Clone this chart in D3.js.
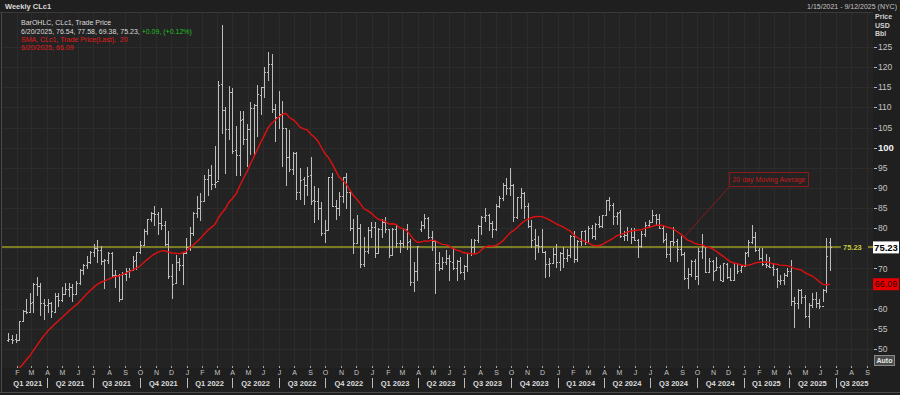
<!DOCTYPE html>
<html>
<head>
<meta charset="utf-8">
<script src="https://cdn.jsdelivr.net/npm/d3@7"></script>
<style>
  html, body { margin: 0; padding: 0; background: #1f1f1f; }
  svg { display: block; font-family: "Liberation Sans", Arial, sans-serif; }
</style>
</head>
<body>
<svg id="chart" width="900" height="395"></svg>
<script>
// Weekly bars, first bar on Friday 2021-01-15, one every 7 days
const firstWeek = "2021-01-15";

// [open, high, low, close] per week
const ohlc2021 = [
  [52.2,53.9,51.8,52.36],[52.4,53.6,51.3,52.27],[52.4,53.7,51.6,52.20],[52.3,57.0,51.9,56.85],
  [56.9,59.6,56.6,59.47],[59.5,62.3,58.6,59.24],[59.3,63.8,59.0,61.50],[61.6,66.4,58.9,66.09],
  [66.1,68.0,63.1,65.61],[65.6,66.4,58.3,61.42],[61.4,62.3,57.3,60.97],[61.0,62.3,58.9,61.45],
  [61.4,61.6,57.6,59.32],[59.3,64.0,59.0,63.13],[63.1,64.0,60.5,62.14],[62.1,65.5,61.6,63.58],
  [63.6,66.5,63.6,64.90],[64.9,66.4,62.8,65.37],[65.4,66.1,61.6,63.58],[63.6,67.0,63.3,66.32],
  [66.3,69.8,66.0,69.62],[69.6,71.0,68.5,70.91],[70.9,73.0,69.8,71.64],[71.6,74.3,71.2,74.05],
  [74.0,76.0,72.9,75.16],[75.2,77.0,71.3,74.56],[74.6,75.5,70.8,71.81],[71.8,72.3,65.0,72.07],
  [72.1,74.0,71.1,73.95],[73.9,74.0,67.7,68.28],[68.3,69.6,65.2,68.44],[68.4,68.6,61.7,62.32],
  [62.3,69.0,62.2,68.74],[68.7,70.0,67.0,69.29],[69.3,70.0,67.6,69.72],[69.7,73.0,69.5,71.97],
  [72.0,74.0,69.7,73.98],[74.0,76.7,73.6,75.88],[75.9,79.8,75.5,79.35],[79.4,82.4,78.3,82.28],
  [82.3,84.0,81.5,83.76],[83.8,85.4,80.6,83.57],[83.6,84.0,78.3,81.27],[81.3,85.0,79.5,80.79],
  [80.8,81.7,75.6,76.10],[76.1,79.3,67.4,68.15],[68.2,71.0,62.4,66.26],[66.3,73.3,66.1,71.67],
  [71.7,72.6,69.3,70.86],[70.9,73.9,66.0,73.79],[73.8,77.5,73.6,75.21]
];
const ohlc2022 = [
  [75.2,80.2,74.3,78.90],[78.9,84.0,78.0,83.82],[83.8,87.9,82.5,85.14],[85.1,88.8,81.8,86.82],
  [86.8,93.2,86.6,92.31],[92.3,94.7,88.0,93.10],[93.1,95.8,89.6,91.07],[91.1,100.5,90.1,91.59],
  [91.6,116.6,91.9,115.68],[115.7,130.5,103.4,109.33],[109.3,110.0,93.5,104.70],[104.7,115.4,101.9,113.90],
  [113.9,114.8,98.4,99.27],[99.3,105.3,93.0,98.26],[98.3,109.2,93.0,106.95],[107.0,109.2,100.6,102.07],
  [102.1,106.0,95.3,104.69],[104.7,111.4,98.2,109.77],[109.8,110.9,98.2,110.49],[110.5,115.5,102.6,113.23],
  [113.2,115.1,108.0,115.07],[115.1,120.0,112.3,118.87],[118.9,123.7,116.6,120.67],[120.7,123.2,108.6,109.56],
  [109.6,110.8,101.5,107.62],[107.6,114.1,104.6,108.43],[108.4,111.5,95.1,104.79],[104.8,105.0,90.6,97.59],
  [97.6,104.4,94.0,94.70],[94.7,99.0,93.2,98.62],[98.6,99.0,87.0,89.01],[89.0,94.9,87.0,92.09],
  [92.1,92.7,85.7,90.77],[90.8,95.1,88.0,93.06],[93.1,97.7,85.7,86.87],[86.9,90.4,81.2,86.79],
  [86.8,90.0,82.1,85.11],[85.1,86.4,78.0,78.74],[78.7,82.0,76.3,79.49],[79.5,92.8,79.3,92.64],
  [92.6,93.6,85.3,85.61],[85.6,86.9,82.1,85.05],[85.1,89.1,83.0,87.90],[87.9,92.8,86.3,92.61],
  [92.6,93.7,84.7,88.96],[89.0,89.2,79.4,80.08],[80.1,82.4,73.6,76.28],[76.3,83.3,76.2,79.98],
  [80.0,81.0,70.1,71.02],[71.0,77.8,70.3,74.29],[74.3,80.3,73.6,79.56],[79.6,81.5,77.5,80.26]
];
const ohlc2023 = [
  [80.3,81.5,72.5,73.77],[73.8,80.1,73.5,79.86],[79.9,82.4,77.6,81.64],[81.6,82.7,78.9,79.68],
  [79.7,79.8,72.6,73.39],[73.4,80.0,73.3,79.72],[79.7,80.7,75.1,76.34],[76.3,77.0,73.8,76.32],
  [76.3,80.1,75.1,79.68],[79.7,81.0,74.7,76.68],[76.7,77.4,65.6,66.74],[66.7,71.7,64.1,69.26],
  [69.3,75.7,66.8,75.67],[79.8,81.8,79.0,80.70],[80.7,83.5,79.8,82.52],[82.5,82.7,77.4,77.87],
  [77.9,79.2,74.3,76.78],[76.8,76.9,63.6,71.34],[71.3,74.0,69.4,70.04],[70.0,72.9,69.6,71.69],
  [71.7,74.7,70.8,72.67],[72.7,73.3,67.0,71.74],[71.7,75.1,69.7,70.17],[70.2,72.2,66.8,71.78],
  [71.8,72.8,68.6,69.16],[69.2,70.9,67.1,70.64],[70.6,73.9,69.0,73.86],[73.9,77.3,73.1,75.42],
  [75.4,77.2,73.9,77.07],[77.1,80.7,76.4,80.58],[80.6,83.0,78.3,82.82],[82.8,84.9,81.5,83.19],
  [83.2,83.5,79.4,81.25],[81.3,81.8,77.6,79.83],[79.8,86.0,79.4,85.55],[85.6,88.1,84.9,87.51],
  [87.5,91.2,86.7,90.77],[90.8,92.4,88.3,90.03],[90.0,95.0,88.0,90.79],[90.8,91.0,81.5,82.79],
  [82.8,87.8,82.3,87.69],[87.7,90.0,84.7,88.75],[88.8,89.1,82.3,85.54],[85.5,86.2,80.1,80.51],
  [80.5,82.1,75.0,77.17],[77.2,79.7,72.2,75.89],[75.9,78.0,73.8,75.54],[75.5,79.7,73.8,74.07],
  [74.1,74.4,67.7,71.23],[71.2,72.7,68.0,71.43],[71.4,75.1,71.3,73.56],[73.6,76.2,70.1,71.65]
];
const ohlc2024 = [
  [71.7,74.2,69.3,73.81],[73.8,75.3,70.1,72.68],[72.7,74.9,71.7,73.41],[73.4,78.2,72.5,78.01],
  [78.0,79.3,71.4,72.28],[72.3,77.0,71.7,76.84],[76.8,79.3,75.7,79.19],[79.2,79.6,75.9,76.49],
  [76.5,80.6,76.4,79.97],[80.0,80.9,77.4,78.01],[78.0,81.3,77.0,81.04],[81.0,83.1,80.0,80.63],
  [80.6,83.2,80.1,83.17],[83.2,87.0,83.0,86.91],[86.9,87.7,84.3,85.66],[85.7,86.2,80.7,83.14],
  [83.1,84.0,80.7,83.85],[83.9,84.4,77.6,78.11],[78.1,79.4,76.8,78.26],[78.3,80.4,76.8,79.23],
  [79.2,80.1,76.0,77.72],[77.7,80.0,76.8,76.99],[77.0,77.4,72.5,75.53],[75.5,79.4,75.1,78.45],
  [78.5,81.6,77.8,80.73],[80.7,82.1,80.0,81.54],[81.5,84.5,81.5,83.16],[83.2,83.6,80.9,82.21],
  [82.2,83.6,79.9,80.13],[80.1,80.6,76.3,77.16],[77.2,78.8,72.6,73.52],[73.5,76.9,71.7,76.84],
  [76.8,80.2,75.7,76.65],[76.7,77.2,71.5,74.83],[74.8,78.0,73.2,73.55],[73.6,74.0,67.1,67.67],
  [67.7,70.0,64.8,68.65],[68.7,72.0,67.8,71.92],[71.9,72.4,67.2,68.18],[68.2,75.0,66.0,74.38],
  [74.4,78.5,72.3,75.56],[75.6,75.6,68.9,69.22],[69.2,72.6,69.0,71.78],[71.8,72.0,66.8,69.49],
  [69.5,72.9,69.3,70.38],[70.4,70.9,66.9,67.02],[67.0,71.4,66.7,71.24],[71.2,71.4,67.3,68.00],
  [68.0,70.0,66.9,67.20],[67.2,71.3,67.1,71.29],[71.3,71.3,68.6,69.46],[69.5,70.8,68.9,70.60]
];
const ohlc2025 = [
  [70.6,74.1,70.9,73.96],[74.0,77.0,72.8,76.57],[76.6,80.8,76.2,77.88],[77.9,79.0,74.2,74.66],
  [74.7,75.2,72.0,72.53],[72.5,75.2,70.7,71.00],[71.0,73.7,70.0,70.74],[70.7,72.9,70.0,70.40],
  [70.4,71.3,68.1,69.76],[69.8,70.0,65.2,67.04],[67.0,68.5,65.8,67.18],[67.2,68.8,66.0,68.28],
  [68.3,70.2,68.0,69.36],[69.4,72.0,60.8,61.99],[62.0,62.9,55.1,61.50],[61.5,64.9,60.0,64.68],
  [64.7,64.9,61.2,63.02],[63.0,63.4,57.6,58.29],[58.3,61.4,55.3,61.02],[61.0,63.9,60.2,62.49],
  [62.5,64.2,60.3,61.53],[61.5,62.4,59.9,60.79],[60.8,64.9,61.7,64.58],[64.6,77.6,64.0,72.98],
  [76.54,77.58,69.38,75.23]
];

// 19 weekly closes before the first bar (Sep 2020 - Jan 2021), needed for the 20 week SMA
const closesBefore = [39.77,37.33,41.11,40.25,37.05,40.60,40.88,39.85,35.79,37.14,
  40.13,42.15,45.53,46.26,46.57,49.10,48.23,48.52,52.24];

const smaPeriod = 20;
const lastPrice = 75.23;
const lastSma = 66.09;
const priceTicks = d3.range(50, 126, 5);
const monthLetters = ["J","F","M","A","M","J","J","A","S","O","N","D"];
const legendLines = [
  "BarOHLC, CLc1, Trade Price",
  "6/20/2025, 76.54, 77.58, 69.38, 75.23, ",
  "SMA, CLc1, Trade Price(Last),  20",
  "6/20/2025, 66.09"
];
const changeText = "+0.09, (+0.12%)";
const noteText = "20 day Moving Average";
const noteWeek = "2024-09-06";

// ---- layout ----
const W = 900, H = 395;
const plot = { left: 2, right: 873, top: 13, bottom: 368 };
const svg = d3.select("#chart");

const parse = d3.timeParse("%Y-%m-%d");
const fmt = d3.timeFormat("%Y-%m-%d");
const start = parse(firstWeek);
const rows = [].concat(ohlc2021, ohlc2022, ohlc2023, ohlc2024, ohlc2025);
const bars = rows.map((r, i) => ({
  date: d3.timeDay.offset(start, 7 * i),
  open: r[0], high: r[1], low: r[2], close: r[3]
}));

// SMA(20) of the weekly closes, as in the legend
const allCloses = closesBefore.concat(bars.map(d => d.close));
const sma = bars.map((d, i) => ({
  date: d.date,
  value: d3.mean(allCloses.slice(i, i + smaPeriod))
}));

const x = d3.scaleTime()
  .domain([parse("2021-01-15"), parse("2025-09-12")])
  .range([8.4, 872.6]);
const y = d3.scaleLinear().domain([50, 125]).range([349, 47]);

// background
svg.append("rect").attr("width", W).attr("height", H).attr("fill", "#1f1f1f");
svg.append("rect")
  .attr("x", plot.left).attr("y", plot.top)
  .attr("width", plot.right - plot.left).attr("height", plot.bottom - plot.top)
  .attr("fill", "#232323");

svg.append("defs").append("clipPath").attr("id", "clip")
  .append("rect")
  .attr("x", plot.left).attr("y", plot.top)
  .attr("width", plot.right - plot.left).attr("height", plot.bottom - plot.top);

// grid
const grid = svg.append("g").attr("stroke", "#2c2c2c").attr("stroke-width", 1);
grid.selectAll("line.h").data(priceTicks).join("line")
  .attr("x1", plot.left).attr("x2", plot.right)
  .attr("y1", d => Math.round(y(d)) + 0.5).attr("y2", d => Math.round(y(d)) + 0.5);
const months = d3.timeMonth.range(d3.timeMonth.ceil(x.domain()[0]), x.domain()[1]);
grid.selectAll("line.v").data(months).join("line")
  .attr("y1", plot.top).attr("y2", plot.bottom)
  .attr("x1", d => Math.round(x(d)) + 0.5).attr("x2", d => Math.round(x(d)) + 0.5);

// frame lines
svg.append("line").attr("x1", 0).attr("x2", plot.right).attr("y1", 12.5).attr("y2", 12.5)
  .attr("stroke", "#3a3a3a");
svg.append("line").attr("x1", 1.5).attr("x2", 1.5).attr("y1", 12).attr("y2", 393)
  .attr("stroke", "#4a4a4a");
svg.append("line").attr("x1", 0).attr("x2", W).attr("y1", 392.5).attr("y2", 392.5)
  .attr("stroke", "#4a4a4a");

const chart = svg.append("g").attr("clip-path", "url(#clip)");

// last price line
const ly = Math.round(y(lastPrice));
const priceLine = chart.append("g").attr("stroke", "#9a9a26").attr("stroke-width", 1.6);
priceLine.append("line").attr("x1", plot.left).attr("x2", 841).attr("y1", ly).attr("y2", ly);
priceLine.append("line").attr("x1", 868).attr("x2", plot.right).attr("y1", ly).attr("y2", ly);
svg.append("text").attr("x", 843).attr("y", ly).attr("dy", "0.35em")
  .attr("fill", "#c8c83a").attr("font-size", 7.5).attr("font-weight", "bold")
  .text(lastPrice.toFixed(2));

// OHLC bars
const barG = chart.append("g").attr("stroke", "#bdbdbd").attr("stroke-width", 1)
  .attr("shape-rendering", "crispEdges");
bars.forEach(d => {
  const cx = Math.round(x(d.date)) + 0.5;
  barG.append("line").attr("x1", cx).attr("x2", cx)
    .attr("y1", y(d.high)).attr("y2", y(d.low));
  barG.append("line").attr("x1", cx - 1.5).attr("x2", cx)
    .attr("y1", Math.round(y(d.open)) + 0.5).attr("y2", Math.round(y(d.open)) + 0.5);
  barG.append("line").attr("x1", cx).attr("x2", cx + 1.5)
    .attr("y1", Math.round(y(d.close)) + 0.5).attr("y2", Math.round(y(d.close)) + 0.5);
});

// SMA line
const line = d3.line().x(d => x(d.date)).y(d => y(d.value));
chart.append("path").datum(sma)
  .attr("d", line)
  .attr("fill", "none")
  .attr("stroke", "#e01010")
  .attr("stroke-width", 1.4);

// annotation
const note = sma.find(d => fmt(d.date) === noteWeek);
svg.append("line")
  .attr("x1", x(note.date)).attr("y1", y(note.value))
  .attr("x2", 729.5).attr("y2", 186.5)
  .attr("stroke", "#8a1a1a").attr("stroke-width", 1);
svg.append("rect").attr("x", 729.5).attr("y", 172.5).attr("width", 79).attr("height", 14)
  .attr("fill", "#232323").attr("stroke", "#8a1a1a").attr("stroke-width", 1);
svg.append("text").attr("x", 769).attr("y", 180).attr("dy", "0.35em")
  .attr("text-anchor", "middle").attr("fill", "#c81a1a").attr("font-size", 7)
  .text(noteText);

// right axis (labels hidden behind the value boxes are left out)
const axisG = svg.append("g");
priceTicks.forEach(v => {
  const ty = y(v);
  axisG.append("line").attr("x1", plot.right + 1).attr("x2", plot.right + 4)
    .attr("y1", Math.round(ty) + 0.5).attr("y2", Math.round(ty) + 0.5)
    .attr("stroke", "#b8b8b8");
  const covered = Math.abs(ty - y(lastPrice)) < 9 || Math.abs(ty - y(lastSma)) < 9;
  if (covered) return;
  axisG.append("text").attr("x", plot.right + 5).attr("y", ty).attr("dy", "0.36em")
    .attr("fill", v === 100 ? "#f2f2f2" : "#c4c4c4")
    .attr("font-size", v === 100 ? 9.5 : 8.5)
    .attr("font-weight", v === 100 ? "bold" : "normal")
    .text(v);
});
["Price", "USD", "Bbl"].forEach((t, i) => {
  svg.append("text").attr("x", 875).attr("y", 19 + i * 8.6)
    .attr("fill", "#d0d0d0").attr("font-size", 7).attr("font-weight", "bold").text(t);
});

// value boxes
svg.append("rect").attr("x", 873).attr("y", y(lastPrice) - 6).attr("width", 26).attr("height", 12)
  .attr("fill", "#ffffff");
svg.append("text").attr("x", 886).attr("y", y(lastPrice)).attr("dy", "0.36em")
  .attr("text-anchor", "middle").attr("fill", "#000").attr("font-size", 9.5).attr("font-weight", "bold")
  .text(lastPrice.toFixed(2));
svg.append("rect").attr("x", 873).attr("y", y(lastSma) - 6).attr("width", 26).attr("height", 12)
  .attr("fill", "#e80000");
svg.append("text").attr("x", 886).attr("y", y(lastSma)).attr("dy", "0.36em")
  .attr("text-anchor", "middle").attr("fill", "#2a0000").attr("font-size", 9)
  .text(lastSma.toFixed(2));

// Auto button
svg.append("rect").attr("x", 874.5).attr("y", 355.5).attr("width", 20).attr("height", 10)
  .attr("fill", "#4a4a4a").attr("stroke", "#8a8a8a");
svg.append("text").attr("x", 884.5).attr("y", 360.5).attr("dy", "0.35em")
  .attr("text-anchor", "middle").attr("fill", "#e8e8e8").attr("font-size", 7).attr("font-weight", "bold")
  .text("Auto");

// bottom axis: months
const mG = svg.append("g");
months.forEach(m => {
  const mx = Math.round(x(m)) + 0.5;
  mG.append("line").attr("x1", mx).attr("x2", mx).attr("y1", 366).attr("y2", 368)
    .attr("stroke", "#aaaaaa");
  mG.append("text").attr("x", mx).attr("y", 372.5).attr("dy", "0.35em")
    .attr("text-anchor", "middle").attr("fill", "#c4c4c4").attr("font-size", 7)
    .text(monthLetters[m.getMonth()]);
});

// bottom axis: quarters
const quarters = d3.timeMonth.every(3).range(parse("2021-01-01"), x.domain()[1]);
quarters.forEach(q => {
  const qEnd = d3.timeMonth.offset(q, 3);
  const a = Math.max(x(q), x.range()[0]);
  const b = Math.min(x(qEnd), x.range()[1]);
  const label = "Q" + (Math.floor(q.getMonth() / 3) + 1) + " " + q.getFullYear();
  mG.append("text").attr("x", (a + b) / 2).attr("y", 383).attr("dy", "0.35em")
    .attr("text-anchor", "middle").attr("fill", "#dcdcdc").attr("font-size", 7.5)
    .attr("font-weight", "bold").text(label);
  if (x(q) > x.range()[0]) {
    const sx = Math.round(x(q)) + 0.5;
    mG.append("line").attr("x1", sx).attr("x2", sx).attr("y1", 378).attr("y2", 388)
      .attr("stroke", "#bbbbbb");
  }
});

// header and legend
svg.append("text").attr("x", 5).attr("y", 9).attr("fill", "#dadada")
  .attr("font-size", 7.5).attr("font-weight", "bold").text("Weekly CLc1");
svg.append("text").attr("x", 897).attr("y", 9).attr("text-anchor", "end")
  .attr("fill", "#c4c4c4").attr("font-size", 7).text("1/15/2021 - 9/12/2025 (NYC)");

const legendY = [25, 34, 42, 50];
const legendColor = ["#dcdcdc", "#dcdcdc", "#e01c1c", "#e01c1c"];
legendLines.forEach((t, i) => {
  const txt = svg.append("text").attr("x", 21).attr("y", legendY[i])
    .attr("fill", legendColor[i]).attr("font-size", 7).attr("xml:space", "preserve");
  txt.append("tspan").text(t);
  if (i === 1) txt.append("tspan").attr("fill", "#22c122").text(changeText);
});
</script>
</body>
</html>
